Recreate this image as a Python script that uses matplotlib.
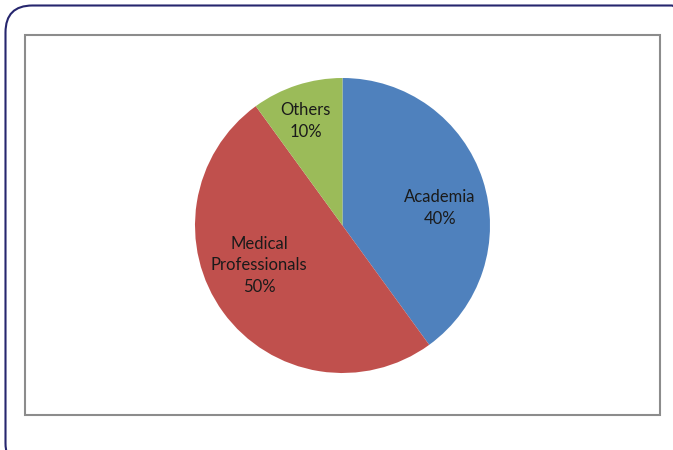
import matplotlib.pyplot as plt
from matplotlib.patches import FancyBboxPatch, Rectangle

# data
categories = ['Academia', 'Medical\nProfessionals', 'Others']
shares = [40, 50, 10]
colors = ['#4F81BD', '#C0504D', '#9BBB59']

# label positions inside the pie (data units, radius = 1)
label_pos = [(0.66, 0.12), (-0.565, -0.27), (-0.25, 0.71)]

W, H = 673, 450
fig = plt.figure(figsize=(W / 100, H / 100), dpi=100)
fig.patch.set_facecolor('white')

# outer rounded frame (runs off the right/bottom edge like the original)
frame = FancyBboxPatch((5.5 / W, -20 / H), (W + 20) / W, (H - 5.5 + 20) / H,
                       boxstyle='round,pad=0,rounding_size=0.04',
                       transform=fig.transFigure, fill=False,
                       edgecolor='#26266e', linewidth=1.5, mutation_aspect=W / H)
fig.patches.append(frame)

# inner plot-area rectangle
inner = Rectangle((25 / W, (H - 415) / H), (660 - 25) / W, (415 - 35) / H,
                  transform=fig.transFigure, fill=False,
                  edgecolor='#8c8c8c', linewidth=1.5)
fig.patches.append(inner)

# pie axes: center (342.5, 225.5), radius 147.5 px
cx, cy, r = 342.5, 225.5, 147.5
ax = fig.add_axes([(cx - r) / W, (H - cy - r) / H, 2 * r / W, 2 * r / H])
ax.pie(shares, colors=colors, startangle=90, counterclock=False, radius=1,
       wedgeprops=dict(linewidth=0))
ax.set_xlim(-1, 1)
ax.set_ylim(-1, 1)
ax.set_aspect('auto')
ax.axis('off')

for name, val, (x, y) in zip(categories, shares, label_pos):
    ax.text(x, y, f'{name}\n{val}%', ha='center', va='center',
            fontsize=12, family='Lato', color='#1a1a1a', linespacing=1.42)

fig.savefig('out.png', dpi=100)
